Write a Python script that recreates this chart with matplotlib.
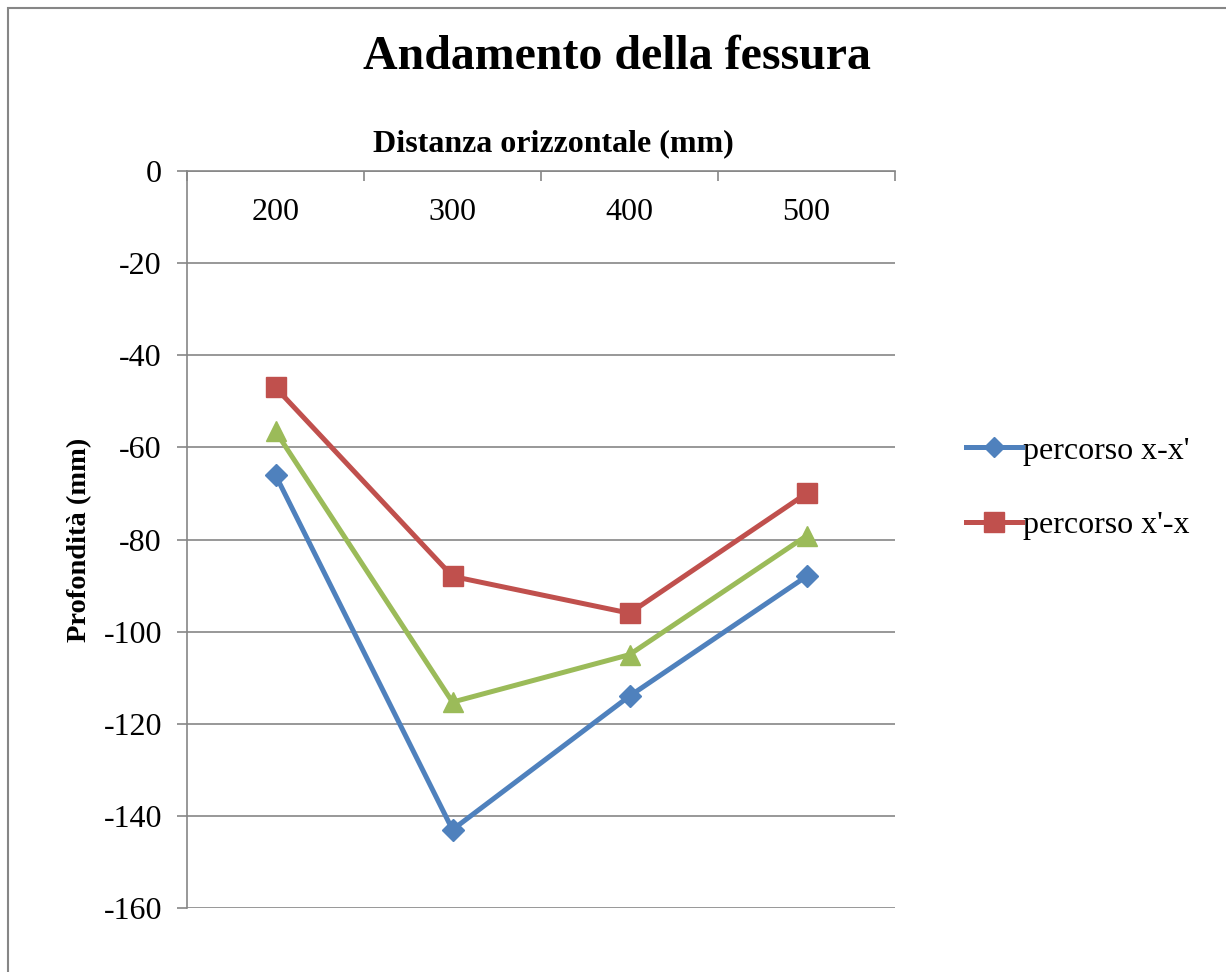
import matplotlib
matplotlib.use("Agg")
import matplotlib.pyplot as plt
from matplotlib.patches import Rectangle
import matplotlib.transforms as mtransforms

# categories on the (top) horizontal axis
distanze = ["200", "300", "400", "500"]

# depth of the crack along each path (mm)
percorso_x_xp = [-66, -143, -114, -88]
percorso_xp_x = [-47, -88, -96, -70]
percorso_medio = [-56.5, -115.3, -105, -79.2]

nomi = ["percorso x-x'", "percorso x'-x", "_nolegend_"]
colori = ["#4F81BD", "#C0504D", "#9BBB59"]
marcatori = ["D", "s", "^"]
dimensioni = [11, 14.5, 14.5]

plt.rcParams['font.family'] = ['Liberation Serif', 'DejaVu Serif']
plt.rcParams['axes.unicode_minus'] = False

fig = plt.figure(figsize=(12.26, 9.72), dpi=100)
W, H = 1226, 972

# outer chart border (only top / left visible, picture is cropped)
fig.patches.append(Rectangle((8 / W, -0.2), 1.5, 1.2 - 8 / H, transform=fig.transFigure,
                             fill=False, edgecolor="#868686", lw=1.5))

ax = fig.add_axes([187 / W, 1 - 908 / H, (895 - 187) / W, (908 - 171) / H])

grigio = "#868686"
xs = list(range(len(distanze)))
serie = [percorso_x_xp, percorso_xp_x, percorso_medio]
for ys, nome, col, m, ms in zip(serie, nomi, colori, marcatori, dimensioni):
    ax.plot(xs, ys, color=col, lw=3.6, marker=m, markersize=ms, label=nome, zorder=3)

ax.set_xlim(-0.5, len(distanze) - 0.5)
ax.set_ylim(-160, 0)
ax.set_yticks(range(-160, 1, 20))
ax.yaxis.grid(True, color=grigio, lw=1.2)
ax.set_axisbelow(True)

for s in ["right", "bottom"]:
    ax.spines[s].set_visible(False)
for s in ["left", "top"]:
    ax.spines[s].set_color(grigio)
    ax.spines[s].set_linewidth(1.2)

ax.tick_params(axis="y", direction="out", length=7, width=1.2, color=grigio,
               labelsize=23, pad=11)

# category axis on top: ticks between categories, labels inside the plot
ax.xaxis.set_ticks_position("top")
ax.set_xticks([i - 0.5 for i in range(len(distanze) + 1)])
ax.set_xticklabels([])
ax.tick_params(axis="x", direction="in", length=7, width=1.2, color=grigio)
trans = mtransforms.blended_transform_factory(ax.transData, ax.transAxes)
for i, d in enumerate(distanze):
    ax.text(i, 1 - 41 / 737, d, transform=trans, ha="center", va="center", fontsize=23)

fig.text(553 / W, 1 - 144 / H, "Distanza orizzontale (mm)", ha="center", va="center",
         fontsize=23, fontweight="bold")
ax.set_ylabel("Profondità (mm)", fontsize=20.5, fontweight="bold", labelpad=8)
fig.text(617 / W, 1 - 57 / H, "Andamento della fessura", ha="center", va="center",
         fontsize=34.5, fontweight="bold")

ax.legend(loc="center left", bbox_to_anchor=(953 / W, 1 - 488 / H),
          bbox_transform=fig.transFigure, frameon=False, fontsize=23,
          handlelength=1.75, handletextpad=0.05, labelspacing=1.4, borderaxespad=0,
          markerscale=0.95)

fig.savefig("out.png", dpi=100)
